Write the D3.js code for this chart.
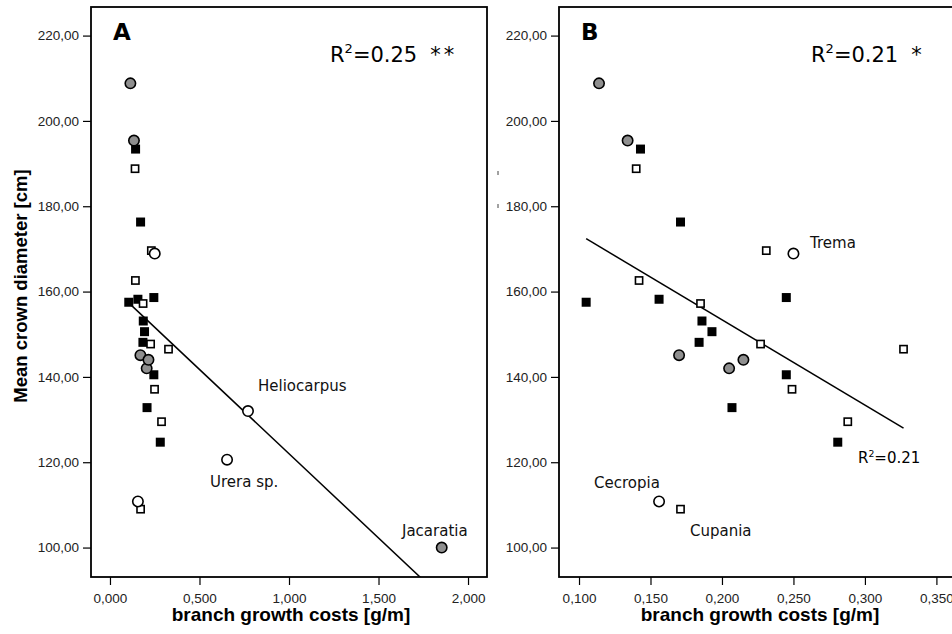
<!DOCTYPE html>
<html>
<head>
<meta charset="utf-8">
<script src="https://cdn.jsdelivr.net/npm/d3@7"></script>
<style>
  html, body { margin: 0; padding: 0; background: #fff; }
  svg { display: block; }
</style>
</head>
<body>
<svg id="chart" width="952" height="634"></svg>
<script>
// ---------------- DATA ----------------
// branch growth costs [g/m]
const costs = [0.114, 0.134, 0.143, 0.140, 0.171, 0.231, 0.250, 0.142, 0.245, 0.105,
               0.156, 0.185, 0.186, 0.193, 0.184, 0.227, 0.170, 0.205, 0.215, 0.245,
               0.249, 0.207, 0.288, 0.281, 0.327, 0.156, 0.171,
               0.771, 0.654, 1.853];
// Mean crown diameter [cm]
const diameters = [208.8, 195.4, 193.4, 188.8, 176.3, 169.6, 168.9, 162.6, 158.6, 157.5,
                   158.2, 157.2, 153.1, 150.6, 148.1, 147.7, 145.1, 142.0, 144.0, 140.5,
                   137.1, 132.8, 129.5, 124.7, 146.5, 110.8, 109.0,
                   132.0, 120.6, 100.0];
// marker group: gc = grey circle, bs = black square, os = open square, oc = open circle
const groups = ["gc", "gc", "bs", "os", "bs", "os", "oc", "os", "bs", "bs",
                "bs", "os", "bs", "bs", "bs", "os", "gc", "gc", "gc", "bs",
                "os", "bs", "os", "bs", "os", "oc", "os",
                "oc", "oc", "gc"];
// species names (labelled points only)
const names = ["", "", "", "", "", "", "Trema", "", "", "",
               "", "", "", "", "", "", "", "", "", "",
               "", "", "", "", "", "Cecropia", "Cupania",
               "Heliocarpus", "Urera sp.", "Jacaratia"];
// points shown in panel B (the three outliers are excluded)
const inPanelB = [1, 1, 1, 1, 1, 1, 1, 1, 1, 1,
                  1, 1, 1, 1, 1, 1, 1, 1, 1, 1,
                  1, 1, 1, 1, 1, 1, 1,
                  0, 0, 0];

const yTicks = [100, 120, 140, 160, 180, 200, 220];
const xTicksA = [0, 0.5, 1.0, 1.5, 2.0];
const xTicksB = [0.10, 0.15, 0.20, 0.25, 0.30, 0.35];

// fitted regression lines
const fitA = { intercept: 161.5, slope: -39.5, xmin: 0.105, xmax: 1.853, r2: "0.25", sig: "**" };
const fitB = { intercept: 193.4, slope: -200.0, xmin: 0.105, xmax: 0.327, r2: "0.21", sig: "*" };

const xTitle = "branch growth costs [g/m]";
const yTitle = "Mean crown diameter [cm]";

// ---------------- DRAW ----------------
const svg = d3.select("#chart");
const fmtX = d => d.toFixed(3).replace(".", ",");
const fmtY = d => d.toFixed(2).replace(".", ",");

const y = d3.scaleLinear().domain([93.1, 226.7]).range([577, 7]);
const xA = d3.scaleLinear().domain([-0.106, 2.106]).range([91, 487]);
const xB = d3.scaleLinear().domain([0.086, 0.377]).range([559, 975]);

const tickFont = "'Liberation Sans', Arial, sans-serif";
const annFont = "'DejaVu Sans', Verdana, sans-serif";

const points = costs.map((c, i) => ({ x: c, y: diameters[i], g: groups[i], name: names[i], b: inPanelB[i] === 1 }));
const order = { bs: 0, os: 1, gc: 2, oc: 3 };

function panel(id, x, xTicks, pts, fit, letter, titleX) {
  const g = svg.append("g");
  const [x0, x1] = x.range();
  const [yb, yt] = y.range();

  const clipId = "clip" + id;
  svg.append("clipPath").attr("id", clipId)
    .append("rect").attr("x", x0).attr("y", yt).attr("width", x1 - x0).attr("height", yb - yt);

  // frame
  g.append("rect").attr("x", x0).attr("y", yt).attr("width", x1 - x0).attr("height", yb - yt)
    .attr("fill", "none").attr("stroke", "#000").attr("stroke-width", 1.8);

  // axes
  const ax = g.append("g").attr("transform", `translate(0,${yb})`)
    .call(d3.axisBottom(x).tickValues(xTicks).tickFormat(fmtX).tickSize(8).tickPadding(8));
  const ay = g.append("g").attr("transform", `translate(${x0},0)`)
    .call(d3.axisLeft(y).tickValues(yTicks).tickFormat(fmtY).tickSize(8).tickPadding(4));
  [ax, ay].forEach(a => {
    a.select(".domain").remove();
    a.selectAll("line").attr("stroke", "#000").attr("stroke-width", 1.2);
    a.selectAll("text").attr("font-family", tickFont).attr("font-size", "13.5px").attr("fill", "#222");
  });

  // regression line
  g.append("line")
    .attr("clip-path", `url(#${clipId})`)
    .attr("x1", x(fit.xmin)).attr("y1", y(fit.intercept + fit.slope * fit.xmin))
    .attr("x2", x(fit.xmax)).attr("y2", y(fit.intercept + fit.slope * fit.xmax))
    .attr("stroke", "#000").attr("stroke-width", 1.5);

  // points
  const sorted = pts.slice().sort((a, b) => order[a.g] - order[b.g]);
  const mg = g.append("g").attr("clip-path", `url(#${clipId})`);
  sorted.forEach(p => {
    const cx = x(p.x), cy = y(p.y);
    if (p.g === "bs") {
      mg.append("rect").attr("x", cx - 4.5).attr("y", cy - 4.5).attr("width", 9).attr("height", 9).attr("fill", "#000");
    } else if (p.g === "os") {
      mg.append("rect").attr("x", cx - 3.6).attr("y", cy - 3.6).attr("width", 7.2).attr("height", 7.2)
        .attr("fill", "#fff").attr("stroke", "#000").attr("stroke-width", 1.6);
    } else {
      mg.append("circle").attr("cx", cx).attr("cy", cy).attr("r", 5.2)
        .attr("fill", p.g === "gc" ? "#8f8f8f" : "#fff").attr("stroke", "#000").attr("stroke-width", 1.6);
    }
  });

  // panel letter
  g.append("text").attr("x", x0 + 22).attr("y", 40).text(letter)
    .attr("font-family", annFont).attr("font-weight", "bold").attr("font-size", "23px").attr("fill", "#000");

  // axis title
  g.append("text").attr("x", titleX).attr("y", 621)
    .attr("text-anchor", "middle").text(xTitle)
    .attr("font-family", tickFont).attr("font-weight", "bold").attr("font-size", "19px").attr("fill", "#000");
  return g;
}

const gA = panel("A", xA, xTicksA, points, fitA, "A", 291);
const gB = panel("B", xB, xTicksB, points.filter(p => p.b), fitB, "B", 760);

// R² texts
function r2Text(g, xpos, ypos, fit, size, withSig) {
  const t = g.append("text").attr("x", xpos).attr("y", ypos)
    .attr("font-family", annFont).attr("font-size", size + "px").attr("fill", "#000");
  t.append("tspan").text("R");
  t.append("tspan").text("2").attr("font-size", (size * 0.62) + "px").attr("dy", -size * 0.42);
  t.append("tspan").text("=" + fit.r2).attr("dy", size * 0.42);
  if (withSig) {
    t.append("tspan").text(fit.sig).attr("dx", size * 0.62).attr("letter-spacing", "3px");
  }
}
r2Text(gA, 330, 62, fitA, 21, true);
r2Text(gB, 811, 62, fitB, 21, true);
r2Text(gB, 858, 463, fitB, 15, false);

// species labels
const labelPos = {
  "Heliocarpus": ["A", 258, 391],
  "Urera sp.": ["A", 210, 487],
  "Jacaratia": ["A", 402, 536],
  "Trema": ["B", 810, 248],
  "Cecropia": ["B", 594, 488],
  "Cupania": ["B", 690, 536]
};
Object.keys(labelPos).forEach(n => {
  const [pn, lx, ly] = labelPos[n];
  (pn === "A" ? gA : gB).append("text").attr("x", lx).attr("y", ly).text(n)
    .attr("font-family", annFont).attr("font-size", "15px").attr("fill", "#111");
});

// y axis title
svg.append("text").attr("transform", "translate(27,286) rotate(-90)")
  .attr("text-anchor", "middle").text(yTitle)
  .attr("font-family", tickFont).attr("font-weight", "bold").attr("font-size", "18.5px").attr("fill", "#000");

// small stray marks left of panel B
[173, 206].forEach(v => {
  svg.append("line").attr("x1", 498).attr("x2", 498).attr("y1", v - 2).attr("y2", v + 2)
    .attr("stroke", "#444").attr("stroke-width", 1);
});
</script>
</body>
</html>
